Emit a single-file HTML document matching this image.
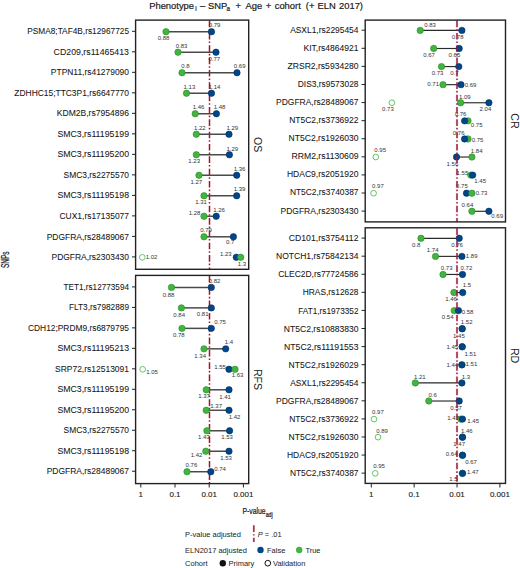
<!DOCTYPE html><html><head><meta charset="utf-8"><style>html,body{margin:0;padding:0;background:#fff;width:520px;height:568px;overflow:hidden}svg{display:block}text{font-family:"Liberation Sans",sans-serif}</style></head><body>
<svg width="520" height="568" viewBox="0 0 520 568">
<text y="9.1" font-size="9.4" fill="#1a1a1a" stroke="#1a1a1a" stroke-width="0.2"><tspan x="149.2">Phenotype</tspan><tspan x="195.3" y="11.1" font-size="6.3">i</tspan><tspan x="200.1" y="9.1">–</tspan><tspan x="207.9">SNP</tspan><tspan x="226.4" y="11.1" font-size="6.3">a</tspan><tspan x="235.6" y="9.1">+</tspan><tspan x="245.5">Age</tspan><tspan x="265.7">+</tspan><tspan x="274.7">cohort</tspan><tspan x="305.8">(+</tspan><tspan x="317.5">ELN</tspan><tspan x="339.0">2017)</tspan></text>
<text x="129" y="34.40" font-size="8.9" fill="#151515" stroke="#151515" stroke-width="0.06" text-anchor="end" textLength="101.76" lengthAdjust="spacingAndGlyphs">PSMA8;TAF4B,rs12967725</text>
<line x1="132.00" x2="135.6" y1="31.30" y2="31.30" stroke="#222" stroke-width="1"/>
<text x="129" y="54.91" font-size="8.9" fill="#151515" stroke="#151515" stroke-width="0.06" text-anchor="end" textLength="75.38" lengthAdjust="spacingAndGlyphs">CD209,rs11465413</text>
<line x1="132.00" x2="135.6" y1="51.81" y2="51.81" stroke="#222" stroke-width="1"/>
<text x="129" y="75.42" font-size="8.9" fill="#151515" stroke="#151515" stroke-width="0.06" text-anchor="end" textLength="78.14" lengthAdjust="spacingAndGlyphs">PTPN11,rs41279090</text>
<line x1="132.00" x2="135.6" y1="72.32" y2="72.32" stroke="#222" stroke-width="1"/>
<text x="129" y="95.93" font-size="8.9" fill="#151515" stroke="#151515" stroke-width="0.06" text-anchor="end" textLength="114.67" lengthAdjust="spacingAndGlyphs">ZDHHC15;TTC3P1,rs6647770</text>
<line x1="132.00" x2="135.6" y1="92.83" y2="92.83" stroke="#222" stroke-width="1"/>
<text x="129" y="116.44" font-size="8.9" fill="#151515" stroke="#151515" stroke-width="0.06" text-anchor="end" textLength="72.19" lengthAdjust="spacingAndGlyphs">KDM2B,rs7954896</text>
<line x1="132.00" x2="135.6" y1="113.34" y2="113.34" stroke="#222" stroke-width="1"/>
<text x="129" y="136.95" font-size="8.9" fill="#151515" stroke="#151515" stroke-width="0.06" text-anchor="end" textLength="71.59" lengthAdjust="spacingAndGlyphs">SMC3,rs11195199</text>
<line x1="132.00" x2="135.6" y1="133.85" y2="133.85" stroke="#222" stroke-width="1"/>
<text x="129" y="157.46" font-size="8.9" fill="#151515" stroke="#151515" stroke-width="0.06" text-anchor="end" textLength="71.59" lengthAdjust="spacingAndGlyphs">SMC3,rs11195200</text>
<line x1="132.00" x2="135.6" y1="154.36" y2="154.36" stroke="#222" stroke-width="1"/>
<text x="129" y="177.97" font-size="8.9" fill="#151515" stroke="#151515" stroke-width="0.06" text-anchor="end" textLength="65.41" lengthAdjust="spacingAndGlyphs">SMC3,rs2275570</text>
<line x1="132.00" x2="135.6" y1="174.87" y2="174.87" stroke="#222" stroke-width="1"/>
<text x="129" y="198.48" font-size="8.9" fill="#151515" stroke="#151515" stroke-width="0.06" text-anchor="end" textLength="71.59" lengthAdjust="spacingAndGlyphs">SMC3,rs11195198</text>
<line x1="132.00" x2="135.6" y1="195.38" y2="195.38" stroke="#222" stroke-width="1"/>
<text x="129" y="218.99" font-size="8.9" fill="#151515" stroke="#151515" stroke-width="0.06" text-anchor="end" textLength="69.47" lengthAdjust="spacingAndGlyphs">CUX1,rs17135077</text>
<line x1="132.00" x2="135.6" y1="215.89" y2="215.89" stroke="#222" stroke-width="1"/>
<text x="129" y="239.50" font-size="8.9" fill="#151515" stroke="#151515" stroke-width="0.06" text-anchor="end" textLength="82.37" lengthAdjust="spacingAndGlyphs">PDGFRA,rs28489067</text>
<line x1="132.00" x2="135.6" y1="236.40" y2="236.40" stroke="#222" stroke-width="1"/>
<text x="129" y="260.01" font-size="8.9" fill="#151515" stroke="#151515" stroke-width="0.06" text-anchor="end" textLength="77.50" lengthAdjust="spacingAndGlyphs">PDGFRA,rs2303430</text>
<line x1="132.00" x2="135.6" y1="256.91" y2="256.91" stroke="#222" stroke-width="1"/>
<line x1="209.5" x2="209.5" y1="20.1" y2="269.3" stroke="#a8102e" stroke-width="1.5" stroke-dasharray="6.6,1.95,1.6,2.19" stroke-dashoffset="-0.5" opacity="1"/>
<line x1="166" x2="211.5" y1="31.70" y2="31.70" stroke="#4a4a4a" stroke-width="1.5"/>
<circle cx="166" cy="31.70" r="3.2" fill="#42B540" stroke="#2a8a2a" stroke-width="0.6"/>
<circle cx="211.5" cy="31.70" r="3.2" fill="#00468B" stroke="#00305e" stroke-width="0.6"/>
<text x="214.5" y="26.95" font-size="6" fill="#333333" text-anchor="middle">0.79</text>
<text x="163.5" y="40.15" font-size="6" fill="#333333" text-anchor="middle">0.88</text>
<line x1="178" x2="216" y1="52.21" y2="52.21" stroke="#4a4a4a" stroke-width="1.5"/>
<circle cx="178" cy="52.21" r="3.2" fill="#42B540" stroke="#2a8a2a" stroke-width="0.6"/>
<circle cx="216" cy="52.21" r="3.2" fill="#00468B" stroke="#00305e" stroke-width="0.6"/>
<text x="181.5" y="48.15" font-size="6" fill="#333333" text-anchor="middle">0.83</text>
<text x="214.3" y="60.65" font-size="6" fill="#333333" text-anchor="middle">0.77</text>
<line x1="182" x2="237" y1="72.72" y2="72.72" stroke="#4a4a4a" stroke-width="1.5"/>
<circle cx="182" cy="72.72" r="3.2" fill="#42B540" stroke="#2a8a2a" stroke-width="0.6"/>
<circle cx="237" cy="72.72" r="3.2" fill="#00468B" stroke="#00305e" stroke-width="0.6"/>
<text x="185.5" y="68.45" font-size="6" fill="#333333" text-anchor="middle">0.8</text>
<text x="239.7" y="68.25" font-size="6" fill="#333333" text-anchor="middle">0.69</text>
<line x1="186.5" x2="211.5" y1="93.23" y2="93.23" stroke="#4a4a4a" stroke-width="1.5"/>
<circle cx="186.5" cy="93.23" r="3.2" fill="#42B540" stroke="#2a8a2a" stroke-width="0.6"/>
<circle cx="211.5" cy="93.23" r="3.2" fill="#00468B" stroke="#00305e" stroke-width="0.6"/>
<text x="189.4" y="89.05" font-size="6" fill="#333333" text-anchor="middle">1.13</text>
<text x="214.5" y="89.05" font-size="6" fill="#333333" text-anchor="middle">1.14</text>
<line x1="195.2" x2="216.4" y1="113.74" y2="113.74" stroke="#4a4a4a" stroke-width="1.5"/>
<circle cx="195.2" cy="113.74" r="3.2" fill="#42B540" stroke="#2a8a2a" stroke-width="0.6"/>
<circle cx="216.4" cy="113.74" r="3.2" fill="#00468B" stroke="#00305e" stroke-width="0.6"/>
<text x="198.5" y="109.25" font-size="6" fill="#333333" text-anchor="middle">1.46</text>
<text x="219.5" y="109.25" font-size="6" fill="#333333" text-anchor="middle">1.48</text>
<line x1="196.3" x2="229" y1="134.25" y2="134.25" stroke="#4a4a4a" stroke-width="1.5"/>
<circle cx="196.3" cy="134.25" r="3.2" fill="#42B540" stroke="#2a8a2a" stroke-width="0.6"/>
<circle cx="229" cy="134.25" r="3.2" fill="#00468B" stroke="#00305e" stroke-width="0.6"/>
<text x="199.8" y="130.25" font-size="6" fill="#333333" text-anchor="middle">1.22</text>
<text x="232.3" y="130.25" font-size="6" fill="#333333" text-anchor="middle">1.29</text>
<line x1="196.3" x2="229.4" y1="154.76" y2="154.76" stroke="#4a4a4a" stroke-width="1.5"/>
<circle cx="196.3" cy="154.76" r="3.2" fill="#42B540" stroke="#2a8a2a" stroke-width="0.6"/>
<circle cx="229.4" cy="154.76" r="3.2" fill="#00468B" stroke="#00305e" stroke-width="0.6"/>
<text x="232.3" y="150.55" font-size="6" fill="#333333" text-anchor="middle">1.29</text>
<text x="194.2" y="163.35" font-size="6" fill="#333333" text-anchor="middle">1.23</text>
<line x1="199" x2="236.7" y1="175.27" y2="175.27" stroke="#4a4a4a" stroke-width="1.5"/>
<circle cx="199" cy="175.27" r="3.2" fill="#42B540" stroke="#2a8a2a" stroke-width="0.6"/>
<circle cx="236.7" cy="175.27" r="3.2" fill="#00468B" stroke="#00305e" stroke-width="0.6"/>
<text x="239.5" y="171.05" font-size="6" fill="#333333" text-anchor="middle">1.36</text>
<text x="196.3" y="183.65" font-size="6" fill="#333333" text-anchor="middle">1.27</text>
<line x1="204" x2="236.7" y1="195.78" y2="195.78" stroke="#4a4a4a" stroke-width="1.5"/>
<circle cx="204" cy="195.78" r="3.2" fill="#42B540" stroke="#2a8a2a" stroke-width="0.6"/>
<circle cx="236.7" cy="195.78" r="3.2" fill="#00468B" stroke="#00305e" stroke-width="0.6"/>
<text x="239.5" y="191.35" font-size="6" fill="#333333" text-anchor="middle">1.39</text>
<text x="201.1" y="203.55" font-size="6" fill="#333333" text-anchor="middle">1.31</text>
<line x1="204" x2="216.2" y1="216.29" y2="216.29" stroke="#4a4a4a" stroke-width="1.5"/>
<circle cx="204" cy="216.29" r="3.2" fill="#42B540" stroke="#2a8a2a" stroke-width="0.6"/>
<circle cx="216.2" cy="216.29" r="3.2" fill="#00468B" stroke="#00305e" stroke-width="0.6"/>
<text x="194.5" y="214.55" font-size="6" fill="#333333" text-anchor="middle">1.28</text>
<text x="219" y="212.35" font-size="6" fill="#333333" text-anchor="middle">1.26</text>
<line x1="204" x2="233.4" y1="236.80" y2="236.80" stroke="#4a4a4a" stroke-width="1.5"/>
<circle cx="204" cy="236.80" r="3.2" fill="#42B540" stroke="#2a8a2a" stroke-width="0.6"/>
<circle cx="233.4" cy="236.80" r="3.2" fill="#00468B" stroke="#00305e" stroke-width="0.6"/>
<text x="206" y="232.05" font-size="6" fill="#333333" text-anchor="middle">0.79</text>
<text x="230.2" y="244.25" font-size="6" fill="#333333" text-anchor="middle">0.7</text>
<line x1="240.7" x2="236.3" y1="257.31" y2="257.31" stroke="#4a4a4a" stroke-width="1.5"/>
<circle cx="142.3" cy="257.31" r="2.85" fill="none" stroke="#42B540" stroke-width="0.95" opacity="0.85"/>
<circle cx="236.3" cy="257.31" r="3.2" fill="#00468B" stroke="#00305e" stroke-width="0.6"/>
<circle cx="240.7" cy="257.31" r="3.2" fill="#42B540" stroke="#2a8a2a" stroke-width="0.6"/>
<text x="151.5" y="258.55" font-size="6" fill="#333333" text-anchor="middle">1.02</text>
<text x="225.8" y="256.35" font-size="6" fill="#333333" text-anchor="middle">1.23</text>
<text x="242" y="266.05" font-size="6" fill="#333333" text-anchor="middle">1.3</text>
<rect x="135.6" y="20.1" width="113.10" height="249.20" fill="none" stroke="#222" stroke-width="1.4"/>
<text x="258.3" y="144.70000000000002" font-size="10.6" fill="#1a1a1a" text-anchor="middle" dominant-baseline="central" transform="rotate(90 258.3 144.70000000000002)">OS</text>
<text x="129" y="290.00" font-size="8.9" fill="#151515" stroke="#151515" stroke-width="0.06" text-anchor="end" textLength="65.43" lengthAdjust="spacingAndGlyphs">TET1,rs12773594</text>
<line x1="132.00" x2="135.6" y1="286.90" y2="286.90" stroke="#222" stroke-width="1"/>
<text x="129" y="310.48" font-size="8.9" fill="#151515" stroke="#151515" stroke-width="0.06" text-anchor="end" textLength="60.02" lengthAdjust="spacingAndGlyphs">FLT3,rs7982889</text>
<line x1="132.00" x2="135.6" y1="307.38" y2="307.38" stroke="#222" stroke-width="1"/>
<text x="129" y="330.96" font-size="8.9" fill="#151515" stroke="#151515" stroke-width="0.06" text-anchor="end" textLength="101.00" lengthAdjust="spacingAndGlyphs">CDH12;PRDM9,rs6879795</text>
<line x1="132.00" x2="135.6" y1="327.86" y2="327.86" stroke="#222" stroke-width="1"/>
<text x="129" y="351.44" font-size="8.9" fill="#151515" stroke="#151515" stroke-width="0.06" text-anchor="end" textLength="71.59" lengthAdjust="spacingAndGlyphs">SMC3,rs11195213</text>
<line x1="132.00" x2="135.6" y1="348.34" y2="348.34" stroke="#222" stroke-width="1"/>
<text x="129" y="371.92" font-size="8.9" fill="#151515" stroke="#151515" stroke-width="0.06" text-anchor="end" textLength="73.98" lengthAdjust="spacingAndGlyphs">SRP72,rs12513091</text>
<line x1="132.00" x2="135.6" y1="368.82" y2="368.82" stroke="#222" stroke-width="1"/>
<text x="129" y="392.40" font-size="8.9" fill="#151515" stroke="#151515" stroke-width="0.06" text-anchor="end" textLength="71.59" lengthAdjust="spacingAndGlyphs">SMC3,rs11195199</text>
<line x1="132.00" x2="135.6" y1="389.30" y2="389.30" stroke="#222" stroke-width="1"/>
<text x="129" y="412.88" font-size="8.9" fill="#151515" stroke="#151515" stroke-width="0.06" text-anchor="end" textLength="71.59" lengthAdjust="spacingAndGlyphs">SMC3,rs11195200</text>
<line x1="132.00" x2="135.6" y1="409.78" y2="409.78" stroke="#222" stroke-width="1"/>
<text x="129" y="433.36" font-size="8.9" fill="#151515" stroke="#151515" stroke-width="0.06" text-anchor="end" textLength="65.41" lengthAdjust="spacingAndGlyphs">SMC3,rs2275570</text>
<line x1="132.00" x2="135.6" y1="430.26" y2="430.26" stroke="#222" stroke-width="1"/>
<text x="129" y="453.84" font-size="8.9" fill="#151515" stroke="#151515" stroke-width="0.06" text-anchor="end" textLength="71.59" lengthAdjust="spacingAndGlyphs">SMC3,rs11195198</text>
<line x1="132.00" x2="135.6" y1="450.74" y2="450.74" stroke="#222" stroke-width="1"/>
<text x="129" y="474.32" font-size="8.9" fill="#151515" stroke="#151515" stroke-width="0.06" text-anchor="end" textLength="82.37" lengthAdjust="spacingAndGlyphs">PDGFRA,rs28489067</text>
<line x1="132.00" x2="135.6" y1="471.22" y2="471.22" stroke="#222" stroke-width="1"/>
<line x1="209.5" x2="209.5" y1="275.4" y2="483.6" stroke="#a8102e" stroke-width="1.5" stroke-dasharray="6.6,1.95,1.6,2.19" stroke-dashoffset="-0.5" opacity="1"/>
<line x1="171.5" x2="211.3" y1="287.40" y2="287.40" stroke="#4a4a4a" stroke-width="1.5"/>
<circle cx="171.5" cy="287.40" r="3.2" fill="#42B540" stroke="#2a8a2a" stroke-width="0.6"/>
<circle cx="211.3" cy="287.40" r="3.2" fill="#00468B" stroke="#00305e" stroke-width="0.6"/>
<text x="214.5" y="282.55" font-size="6" fill="#333333" text-anchor="middle">0.82</text>
<text x="168.5" y="296.55" font-size="6" fill="#333333" text-anchor="middle">0.88</text>
<line x1="181.4" x2="211.3" y1="307.88" y2="307.88" stroke="#4a4a4a" stroke-width="1.5"/>
<circle cx="181.4" cy="307.88" r="3.2" fill="#42B540" stroke="#2a8a2a" stroke-width="0.6"/>
<circle cx="211.3" cy="307.88" r="3.2" fill="#00468B" stroke="#00305e" stroke-width="0.6"/>
<text x="179.2" y="316.85" font-size="6" fill="#333333" text-anchor="middle">0.84</text>
<text x="202.7" y="316.45" font-size="6" fill="#333333" text-anchor="middle">0.81</text>
<line x1="182" x2="211.3" y1="328.36" y2="328.36" stroke="#4a4a4a" stroke-width="1.5"/>
<circle cx="182" cy="328.36" r="3.2" fill="#42B540" stroke="#2a8a2a" stroke-width="0.6"/>
<circle cx="211.3" cy="328.36" r="3.2" fill="#00468B" stroke="#00305e" stroke-width="0.6"/>
<text x="220.1" y="324.05" font-size="6" fill="#333333" text-anchor="middle">0.75</text>
<text x="178.8" y="336.75" font-size="6" fill="#333333" text-anchor="middle">0.78</text>
<line x1="204" x2="225.7" y1="348.84" y2="348.84" stroke="#4a4a4a" stroke-width="1.5"/>
<circle cx="204" cy="348.84" r="3.2" fill="#42B540" stroke="#2a8a2a" stroke-width="0.6"/>
<circle cx="225.7" cy="348.84" r="3.2" fill="#00468B" stroke="#00305e" stroke-width="0.6"/>
<text x="229" y="344.45" font-size="6" fill="#333333" text-anchor="middle">1.4</text>
<text x="200.2" y="358.05" font-size="6" fill="#333333" text-anchor="middle">1.34</text>
<line x1="235" x2="229" y1="369.32" y2="369.32" stroke="#4a4a4a" stroke-width="1.5"/>
<circle cx="142.7" cy="369.32" r="2.85" fill="none" stroke="#42B540" stroke-width="0.95" opacity="0.85"/>
<circle cx="229" cy="369.32" r="3.2" fill="#00468B" stroke="#00305e" stroke-width="0.6"/>
<circle cx="235" cy="369.32" r="3.2" fill="#42B540" stroke="#2a8a2a" stroke-width="0.6"/>
<text x="152" y="374.05" font-size="6" fill="#333333" text-anchor="middle">1.05</text>
<text x="220" y="368.55" font-size="6" fill="#333333" text-anchor="middle">1.55</text>
<text x="237.5" y="377.45" font-size="6" fill="#333333" text-anchor="middle">1.63</text>
<line x1="206.2" x2="229" y1="389.80" y2="389.80" stroke="#4a4a4a" stroke-width="1.5"/>
<circle cx="206.2" cy="389.80" r="3.2" fill="#42B540" stroke="#2a8a2a" stroke-width="0.6"/>
<circle cx="229" cy="389.80" r="3.2" fill="#00468B" stroke="#00305e" stroke-width="0.6"/>
<text x="204.1" y="398.45" font-size="6" fill="#333333" text-anchor="middle">1.37</text>
<text x="225" y="399.05" font-size="6" fill="#333333" text-anchor="middle">1.41</text>
<line x1="206.2" x2="229" y1="410.28" y2="410.28" stroke="#4a4a4a" stroke-width="1.5"/>
<circle cx="206.2" cy="410.28" r="3.2" fill="#42B540" stroke="#2a8a2a" stroke-width="0.6"/>
<circle cx="229" cy="410.28" r="3.2" fill="#00468B" stroke="#00305e" stroke-width="0.6"/>
<text x="216.2" y="408.35" font-size="6" fill="#333333" text-anchor="middle">1.37</text>
<text x="234.5" y="419.45" font-size="6" fill="#333333" text-anchor="middle">1.42</text>
<line x1="206.9" x2="229.6" y1="430.76" y2="430.76" stroke="#4a4a4a" stroke-width="1.5"/>
<circle cx="206.9" cy="430.76" r="3.2" fill="#42B540" stroke="#2a8a2a" stroke-width="0.6"/>
<circle cx="229.6" cy="430.76" r="3.2" fill="#00468B" stroke="#00305e" stroke-width="0.6"/>
<text x="203.8" y="439.05" font-size="6" fill="#333333" text-anchor="middle">1.43</text>
<text x="227.1" y="439.05" font-size="6" fill="#333333" text-anchor="middle">1.53</text>
<line x1="205.8" x2="229" y1="451.24" y2="451.24" stroke="#4a4a4a" stroke-width="1.5"/>
<circle cx="205.8" cy="451.24" r="3.2" fill="#42B540" stroke="#2a8a2a" stroke-width="0.6"/>
<circle cx="229" cy="451.24" r="3.2" fill="#00468B" stroke="#00305e" stroke-width="0.6"/>
<text x="196.6" y="457.15" font-size="6" fill="#333333" text-anchor="middle">1.42</text>
<text x="226" y="460.05" font-size="6" fill="#333333" text-anchor="middle">1.53</text>
<line x1="187" x2="210.8" y1="471.72" y2="471.72" stroke="#4a4a4a" stroke-width="1.5"/>
<circle cx="187" cy="471.72" r="3.2" fill="#42B540" stroke="#2a8a2a" stroke-width="0.6"/>
<circle cx="210.8" cy="471.72" r="3.2" fill="#00468B" stroke="#00305e" stroke-width="0.6"/>
<text x="191.4" y="467.45" font-size="6" fill="#333333" text-anchor="middle">0.76</text>
<text x="220.1" y="471.05" font-size="6" fill="#333333" text-anchor="middle">0.74</text>
<rect x="135.6" y="275.4" width="113.10" height="208.20" fill="none" stroke="#222" stroke-width="1.4"/>
<text x="258.3" y="379.5" font-size="10.6" fill="#1a1a1a" text-anchor="middle" dominant-baseline="central" transform="rotate(90 258.3 379.5)">RFS</text>
<text x="358.5" y="32.60" font-size="8.9" fill="#151515" stroke="#151515" stroke-width="0.06" text-anchor="end" textLength="68.37" lengthAdjust="spacingAndGlyphs">ASXL1,rs2295454</text>
<line x1="361.60" x2="365.2" y1="30.20" y2="30.20" stroke="#222" stroke-width="1"/>
<text x="358.5" y="50.69" font-size="8.9" fill="#151515" stroke="#151515" stroke-width="0.06" text-anchor="end" textLength="54.99" lengthAdjust="spacingAndGlyphs">KIT,rs4864921</text>
<line x1="361.60" x2="365.2" y1="48.29" y2="48.29" stroke="#222" stroke-width="1"/>
<text x="358.5" y="68.78" font-size="8.9" fill="#151515" stroke="#151515" stroke-width="0.06" text-anchor="end" textLength="71.01" lengthAdjust="spacingAndGlyphs">ZRSR2,rs5934280</text>
<line x1="361.60" x2="365.2" y1="66.38" y2="66.38" stroke="#222" stroke-width="1"/>
<text x="358.5" y="86.87" font-size="8.9" fill="#151515" stroke="#151515" stroke-width="0.06" text-anchor="end" textLength="60.77" lengthAdjust="spacingAndGlyphs">DIS3,rs9573028</text>
<line x1="361.60" x2="365.2" y1="84.47" y2="84.47" stroke="#222" stroke-width="1"/>
<text x="358.5" y="104.96" font-size="8.9" fill="#151515" stroke="#151515" stroke-width="0.06" text-anchor="end" textLength="82.47" lengthAdjust="spacingAndGlyphs">PDGFRA,rs28489067</text>
<line x1="361.60" x2="365.2" y1="102.56" y2="102.56" stroke="#222" stroke-width="1"/>
<text x="358.5" y="123.05" font-size="8.9" fill="#151515" stroke="#151515" stroke-width="0.06" text-anchor="end" textLength="69.31" lengthAdjust="spacingAndGlyphs">NT5C2,rs3736922</text>
<line x1="361.60" x2="365.2" y1="120.65" y2="120.65" stroke="#222" stroke-width="1"/>
<text x="358.5" y="141.14" font-size="8.9" fill="#151515" stroke="#151515" stroke-width="0.06" text-anchor="end" textLength="69.91" lengthAdjust="spacingAndGlyphs">NT5C2,rs1926030</text>
<line x1="361.60" x2="365.2" y1="138.74" y2="138.74" stroke="#222" stroke-width="1"/>
<text x="358.5" y="159.23" font-size="8.9" fill="#151515" stroke="#151515" stroke-width="0.06" text-anchor="end" textLength="67.02" lengthAdjust="spacingAndGlyphs">RRM2,rs1130609</text>
<line x1="361.60" x2="365.2" y1="156.83" y2="156.83" stroke="#222" stroke-width="1"/>
<text x="358.5" y="177.32" font-size="8.9" fill="#151515" stroke="#151515" stroke-width="0.06" text-anchor="end" textLength="71.53" lengthAdjust="spacingAndGlyphs">HDAC9,rs2051920</text>
<line x1="361.60" x2="365.2" y1="174.92" y2="174.92" stroke="#222" stroke-width="1"/>
<text x="358.5" y="195.41" font-size="8.9" fill="#151515" stroke="#151515" stroke-width="0.06" text-anchor="end" textLength="68.61" lengthAdjust="spacingAndGlyphs">NT5C2,rs3740387</text>
<line x1="361.60" x2="365.2" y1="193.01" y2="193.01" stroke="#222" stroke-width="1"/>
<text x="358.5" y="213.50" font-size="8.9" fill="#151515" stroke="#151515" stroke-width="0.06" text-anchor="end" textLength="78.00" lengthAdjust="spacingAndGlyphs">PDGFRA,rs2303430</text>
<line x1="361.60" x2="365.2" y1="211.10" y2="211.10" stroke="#222" stroke-width="1"/>
<line x1="420.2" x2="461.9" y1="30.40" y2="30.40" stroke="#2a2a2a" stroke-width="1.15"/>
<circle cx="420.2" cy="30.40" r="3.2" fill="#42B540" stroke="#2a8a2a" stroke-width="0.6"/>
<circle cx="461.9" cy="30.40" r="3.2" fill="#00468B" stroke="#00305e" stroke-width="0.6"/>
<text x="430" y="26.85" font-size="6" fill="#333333" text-anchor="middle">0.83</text>
<text x="457.7" y="38.75" font-size="6" fill="#333333" text-anchor="middle">0.78</text>
<line x1="433.7" x2="459.2" y1="48.49" y2="48.49" stroke="#2a2a2a" stroke-width="1.15"/>
<circle cx="433.7" cy="48.49" r="3.2" fill="#42B540" stroke="#2a8a2a" stroke-width="0.6"/>
<circle cx="459.2" cy="48.49" r="3.2" fill="#00468B" stroke="#00305e" stroke-width="0.6"/>
<text x="429.1" y="56.55" font-size="6" fill="#333333" text-anchor="middle">0.67</text>
<text x="454.4" y="56.55" font-size="6" fill="#333333" text-anchor="middle">0.65</text>
<line x1="441.5" x2="458.8" y1="66.58" y2="66.58" stroke="#2a2a2a" stroke-width="1.15"/>
<circle cx="441.5" cy="66.58" r="3.2" fill="#42B540" stroke="#2a8a2a" stroke-width="0.6"/>
<circle cx="458.8" cy="66.58" r="3.2" fill="#00468B" stroke="#00305e" stroke-width="0.6"/>
<text x="437.5" y="74.85" font-size="6" fill="#333333" text-anchor="middle">0.73</text>
<text x="454.3" y="74.85" font-size="6" fill="#333333" text-anchor="middle">0.7</text>
<line x1="443" x2="461" y1="84.67" y2="84.67" stroke="#2a2a2a" stroke-width="1.15"/>
<circle cx="443" cy="84.67" r="3.2" fill="#42B540" stroke="#2a8a2a" stroke-width="0.6"/>
<circle cx="461" cy="84.67" r="3.2" fill="#00468B" stroke="#00305e" stroke-width="0.6"/>
<text x="433.2" y="85.85" font-size="6" fill="#333333" text-anchor="middle">0.71</text>
<text x="470.5" y="87.45" font-size="6" fill="#333333" text-anchor="middle">0.69</text>
<line x1="460.6" x2="488.9" y1="102.76" y2="102.76" stroke="#2a2a2a" stroke-width="1.15"/>
<circle cx="391.9" cy="102.76" r="2.85" fill="none" stroke="#42B540" stroke-width="0.95" opacity="0.85"/>
<circle cx="460.6" cy="102.76" r="3.2" fill="#42B540" stroke="#2a8a2a" stroke-width="0.6"/>
<circle cx="488.9" cy="102.76" r="3.2" fill="#00468B" stroke="#00305e" stroke-width="0.6"/>
<text x="387.9" y="111.45" font-size="6" fill="#333333" text-anchor="middle">0.73</text>
<text x="464.8" y="98.55" font-size="6" fill="#333333" text-anchor="middle">1.09</text>
<text x="485.4" y="111.45" font-size="6" fill="#333333" text-anchor="middle">2.04</text>
<line x1="468" x2="464.6" y1="120.85" y2="120.85" stroke="#2a2a2a" stroke-width="1.15"/>
<circle cx="468" cy="120.85" r="3.2" fill="#42B540" stroke="#2a8a2a" stroke-width="0.6"/>
<circle cx="464.6" cy="120.85" r="3.2" fill="#00468B" stroke="#00305e" stroke-width="0.6"/>
<text x="460.5" y="116.25" font-size="6" fill="#333333" text-anchor="middle">0.76</text>
<text x="476.7" y="127.05" font-size="6" fill="#333333" text-anchor="middle">0.75</text>
<line x1="468" x2="464.6" y1="138.94" y2="138.94" stroke="#2a2a2a" stroke-width="1.15"/>
<circle cx="468" cy="138.94" r="3.2" fill="#42B540" stroke="#2a8a2a" stroke-width="0.6"/>
<circle cx="464.6" cy="138.94" r="3.2" fill="#00468B" stroke="#00305e" stroke-width="0.6"/>
<text x="458.7" y="134.55" font-size="6" fill="#333333" text-anchor="middle">0.76</text>
<text x="477.5" y="141.85" font-size="6" fill="#333333" text-anchor="middle">0.75</text>
<line x1="471.9" x2="456.5" y1="157.03" y2="157.03" stroke="#2a2a2a" stroke-width="1.15"/>
<circle cx="375.8" cy="157.03" r="2.85" fill="none" stroke="#42B540" stroke-width="0.95" opacity="0.85"/>
<circle cx="471.9" cy="157.03" r="3.2" fill="#42B540" stroke="#2a8a2a" stroke-width="0.6"/>
<circle cx="456.5" cy="157.03" r="3.2" fill="#00468B" stroke="#00305e" stroke-width="0.6"/>
<text x="380.2" y="152.45" font-size="6" fill="#333333" text-anchor="middle">0.95</text>
<text x="476.7" y="153.05" font-size="6" fill="#333333" text-anchor="middle">1.84</text>
<text x="452.4" y="165.85" font-size="6" fill="#333333" text-anchor="middle">1.56</text>
<line x1="470.8" x2="472.7" y1="175.12" y2="175.12" stroke="#2a2a2a" stroke-width="1.15"/>
<circle cx="470.8" cy="175.12" r="3.2" fill="#42B540" stroke="#2a8a2a" stroke-width="0.6"/>
<circle cx="472.7" cy="175.12" r="3.2" fill="#00468B" stroke="#00305e" stroke-width="0.6"/>
<text x="462.4" y="175.35" font-size="6" fill="#333333" text-anchor="middle">1.55</text>
<text x="480.2" y="183.35" font-size="6" fill="#333333" text-anchor="middle">1.45</text>
<line x1="471.9" x2="466.5" y1="193.21" y2="193.21" stroke="#2a2a2a" stroke-width="1.15"/>
<circle cx="373.6" cy="193.21" r="2.85" fill="none" stroke="#42B540" stroke-width="0.95" opacity="0.85"/>
<circle cx="466.5" cy="193.21" r="3.2" fill="#00468B" stroke="#00305e" stroke-width="0.6"/>
<circle cx="471.9" cy="193.21" r="3.2" fill="#42B540" stroke="#2a8a2a" stroke-width="0.6"/>
<text x="377.9" y="188.25" font-size="6" fill="#333333" text-anchor="middle">0.97</text>
<text x="461.9" y="188.25" font-size="6" fill="#333333" text-anchor="middle">0.75</text>
<text x="481.5" y="194.75" font-size="6" fill="#333333" text-anchor="middle">0.73</text>
<line x1="471.9" x2="488.9" y1="211.30" y2="211.30" stroke="#2a2a2a" stroke-width="1.15"/>
<circle cx="471.9" cy="211.30" r="3.2" fill="#42B540" stroke="#2a8a2a" stroke-width="0.6"/>
<circle cx="488.9" cy="211.30" r="3.2" fill="#00468B" stroke="#00305e" stroke-width="0.6"/>
<text x="467.4" y="207.05" font-size="6" fill="#333333" text-anchor="middle">0.64</text>
<text x="497.2" y="218.45" font-size="6" fill="#333333" text-anchor="middle">0.69</text>
<line x1="457.0" x2="457.0" y1="20.1" y2="221.9" stroke="#961636" stroke-width="2.1" stroke-dasharray="6.6,1.95,1.6,2.19" stroke-dashoffset="-0.5" opacity="0.75"/>
<rect x="365.2" y="20.1" width="140.30" height="201.80" fill="none" stroke="#222" stroke-width="1.4"/>
<text x="515.3" y="121.0" font-size="10.6" fill="#1a1a1a" text-anchor="middle" dominant-baseline="central" transform="rotate(90 515.3 121.0)">CR</text>
<text x="358.5" y="241.20" font-size="8.9" fill="#151515" stroke="#151515" stroke-width="0.06" text-anchor="end" textLength="69.72" lengthAdjust="spacingAndGlyphs">CD101,rs3754112</text>
<line x1="361.60" x2="365.2" y1="238.10" y2="238.10" stroke="#222" stroke-width="1"/>
<text x="358.5" y="259.28" font-size="8.9" fill="#151515" stroke="#151515" stroke-width="0.06" text-anchor="end" textLength="82.51" lengthAdjust="spacingAndGlyphs">NOTCH1,rs75842134</text>
<line x1="361.60" x2="365.2" y1="256.18" y2="256.18" stroke="#222" stroke-width="1"/>
<text x="358.5" y="277.36" font-size="8.9" fill="#151515" stroke="#151515" stroke-width="0.06" text-anchor="end" textLength="80.26" lengthAdjust="spacingAndGlyphs">CLEC2D,rs77724586</text>
<line x1="361.60" x2="365.2" y1="274.26" y2="274.26" stroke="#222" stroke-width="1"/>
<text x="358.5" y="295.44" font-size="8.9" fill="#151515" stroke="#151515" stroke-width="0.06" text-anchor="end" textLength="55.70" lengthAdjust="spacingAndGlyphs">HRAS,rs12628</text>
<line x1="361.60" x2="365.2" y1="292.34" y2="292.34" stroke="#222" stroke-width="1"/>
<text x="358.5" y="313.52" font-size="8.9" fill="#151515" stroke="#151515" stroke-width="0.06" text-anchor="end" textLength="60.19" lengthAdjust="spacingAndGlyphs">FAT1,rs1973352</text>
<line x1="361.60" x2="365.2" y1="310.42" y2="310.42" stroke="#222" stroke-width="1"/>
<text x="358.5" y="331.60" font-size="8.9" fill="#151515" stroke="#151515" stroke-width="0.06" text-anchor="end" textLength="74.67" lengthAdjust="spacingAndGlyphs">NT5C2,rs10883830</text>
<line x1="361.60" x2="365.2" y1="328.50" y2="328.50" stroke="#222" stroke-width="1"/>
<text x="358.5" y="349.68" font-size="8.9" fill="#151515" stroke="#151515" stroke-width="0.06" text-anchor="end" textLength="74.49" lengthAdjust="spacingAndGlyphs">NT5C2,rs11191553</text>
<line x1="361.60" x2="365.2" y1="346.58" y2="346.58" stroke="#222" stroke-width="1"/>
<text x="358.5" y="367.76" font-size="8.9" fill="#151515" stroke="#151515" stroke-width="0.06" text-anchor="end" textLength="69.91" lengthAdjust="spacingAndGlyphs">NT5C2,rs1926029</text>
<line x1="361.60" x2="365.2" y1="364.66" y2="364.66" stroke="#222" stroke-width="1"/>
<text x="358.5" y="385.84" font-size="8.9" fill="#151515" stroke="#151515" stroke-width="0.06" text-anchor="end" textLength="68.37" lengthAdjust="spacingAndGlyphs">ASXL1,rs2295454</text>
<line x1="361.60" x2="365.2" y1="382.74" y2="382.74" stroke="#222" stroke-width="1"/>
<text x="358.5" y="403.92" font-size="8.9" fill="#151515" stroke="#151515" stroke-width="0.06" text-anchor="end" textLength="82.47" lengthAdjust="spacingAndGlyphs">PDGFRA,rs28489067</text>
<line x1="361.60" x2="365.2" y1="400.82" y2="400.82" stroke="#222" stroke-width="1"/>
<text x="358.5" y="422.00" font-size="8.9" fill="#151515" stroke="#151515" stroke-width="0.06" text-anchor="end" textLength="69.31" lengthAdjust="spacingAndGlyphs">NT5C2,rs3736922</text>
<line x1="361.60" x2="365.2" y1="418.90" y2="418.90" stroke="#222" stroke-width="1"/>
<text x="358.5" y="440.08" font-size="8.9" fill="#151515" stroke="#151515" stroke-width="0.06" text-anchor="end" textLength="69.91" lengthAdjust="spacingAndGlyphs">NT5C2,rs1926030</text>
<line x1="361.60" x2="365.2" y1="436.98" y2="436.98" stroke="#222" stroke-width="1"/>
<text x="358.5" y="458.16" font-size="8.9" fill="#151515" stroke="#151515" stroke-width="0.06" text-anchor="end" textLength="71.53" lengthAdjust="spacingAndGlyphs">HDAC9,rs2051920</text>
<line x1="361.60" x2="365.2" y1="455.06" y2="455.06" stroke="#222" stroke-width="1"/>
<text x="358.5" y="476.24" font-size="8.9" fill="#151515" stroke="#151515" stroke-width="0.06" text-anchor="end" textLength="68.61" lengthAdjust="spacingAndGlyphs">NT5C2,rs3740387</text>
<line x1="361.60" x2="365.2" y1="473.14" y2="473.14" stroke="#222" stroke-width="1"/>
<line x1="421" x2="459.2" y1="238.30" y2="238.30" stroke="#2a2a2a" stroke-width="1.15"/>
<circle cx="421" cy="238.30" r="3.2" fill="#42B540" stroke="#2a8a2a" stroke-width="0.6"/>
<circle cx="459.2" cy="238.30" r="3.2" fill="#00468B" stroke="#00305e" stroke-width="0.6"/>
<text x="416.1" y="246.55" font-size="6" fill="#333333" text-anchor="middle">0.8</text>
<text x="457.1" y="246.75" font-size="6" fill="#333333" text-anchor="middle">0.76</text>
<line x1="435.5" x2="461.9" y1="256.38" y2="256.38" stroke="#2a2a2a" stroke-width="1.15"/>
<circle cx="435.5" cy="256.38" r="3.2" fill="#42B540" stroke="#2a8a2a" stroke-width="0.6"/>
<circle cx="461.9" cy="256.38" r="3.2" fill="#00468B" stroke="#00305e" stroke-width="0.6"/>
<text x="432.7" y="251.95" font-size="6" fill="#333333" text-anchor="middle">1.74</text>
<text x="471.7" y="257.75" font-size="6" fill="#333333" text-anchor="middle">1.89</text>
<line x1="443" x2="462.5" y1="274.46" y2="274.46" stroke="#2a2a2a" stroke-width="1.15"/>
<circle cx="443" cy="274.46" r="3.2" fill="#42B540" stroke="#2a8a2a" stroke-width="0.6"/>
<circle cx="462.5" cy="274.46" r="3.2" fill="#00468B" stroke="#00305e" stroke-width="0.6"/>
<text x="446.7" y="270.45" font-size="6" fill="#333333" text-anchor="middle">0.73</text>
<text x="466.4" y="270.45" font-size="6" fill="#333333" text-anchor="middle">0.72</text>
<line x1="453.9" x2="462.7" y1="292.54" y2="292.54" stroke="#2a2a2a" stroke-width="1.15"/>
<circle cx="453.9" cy="292.54" r="3.2" fill="#42B540" stroke="#2a8a2a" stroke-width="0.6"/>
<circle cx="462.7" cy="292.54" r="3.2" fill="#00468B" stroke="#00305e" stroke-width="0.6"/>
<text x="466.9" y="287.35" font-size="6" fill="#333333" text-anchor="middle">1.5</text>
<text x="451.1" y="301.45" font-size="6" fill="#333333" text-anchor="middle">1.46</text>
<line x1="454.2" x2="458.5" y1="310.62" y2="310.62" stroke="#2a2a2a" stroke-width="1.15"/>
<circle cx="454.2" cy="310.62" r="3.2" fill="#42B540" stroke="#2a8a2a" stroke-width="0.6"/>
<circle cx="458.5" cy="310.62" r="3.2" fill="#00468B" stroke="#00305e" stroke-width="0.6"/>
<text x="467.5" y="313.75" font-size="6" fill="#333333" text-anchor="middle">0.58</text>
<text x="447.7" y="319.25" font-size="6" fill="#333333" text-anchor="middle">0.54</text>
<line x1="462.2" x2="462.2" y1="328.70" y2="328.70" stroke="#2a2a2a" stroke-width="1.15"/>
<circle cx="462.2" cy="328.70" r="3.2" fill="#42B540" stroke="#2a8a2a" stroke-width="0.6"/>
<circle cx="462.2" cy="328.70" r="3.2" fill="#00468B" stroke="#00305e" stroke-width="0.6"/>
<text x="466.7" y="324.05" font-size="6" fill="#333333" text-anchor="middle">1.52</text>
<text x="458.9" y="337.55" font-size="6" fill="#333333" text-anchor="middle">1.45</text>
<line x1="462.2" x2="462.2" y1="346.78" y2="346.78" stroke="#2a2a2a" stroke-width="1.15"/>
<circle cx="462.2" cy="346.78" r="3.2" fill="#42B540" stroke="#2a8a2a" stroke-width="0.6"/>
<circle cx="462.2" cy="346.78" r="3.2" fill="#00468B" stroke="#00305e" stroke-width="0.6"/>
<text x="452.3" y="348.55" font-size="6" fill="#333333" text-anchor="middle">1.45</text>
<text x="470.4" y="355.55" font-size="6" fill="#333333" text-anchor="middle">1.51</text>
<line x1="461.9" x2="461.9" y1="364.86" y2="364.86" stroke="#2a2a2a" stroke-width="1.15"/>
<circle cx="461.9" cy="364.86" r="3.2" fill="#42B540" stroke="#2a8a2a" stroke-width="0.6"/>
<circle cx="461.9" cy="364.86" r="3.2" fill="#00468B" stroke="#00305e" stroke-width="0.6"/>
<text x="452.3" y="367.25" font-size="6" fill="#333333" text-anchor="middle">1.44</text>
<text x="471.4" y="365.85" font-size="6" fill="#333333" text-anchor="middle">1.51</text>
<line x1="415.3" x2="461.9" y1="382.94" y2="382.94" stroke="#2a2a2a" stroke-width="1.15"/>
<circle cx="415.3" cy="382.94" r="3.2" fill="#42B540" stroke="#2a8a2a" stroke-width="0.6"/>
<circle cx="461.9" cy="382.94" r="3.2" fill="#00468B" stroke="#00305e" stroke-width="0.6"/>
<text x="419.8" y="378.75" font-size="6" fill="#333333" text-anchor="middle">1.21</text>
<text x="466" y="378.75" font-size="6" fill="#333333" text-anchor="middle">1.3</text>
<line x1="428.8" x2="459.2" y1="401.02" y2="401.02" stroke="#2a2a2a" stroke-width="1.15"/>
<circle cx="428.8" cy="401.02" r="3.2" fill="#42B540" stroke="#2a8a2a" stroke-width="0.6"/>
<circle cx="459.2" cy="401.02" r="3.2" fill="#00468B" stroke="#00305e" stroke-width="0.6"/>
<text x="432.6" y="396.55" font-size="6" fill="#333333" text-anchor="middle">0.6</text>
<text x="456" y="410.05" font-size="6" fill="#333333" text-anchor="middle">0.57</text>
<line x1="460.8" x2="462.5" y1="419.10" y2="419.10" stroke="#2a2a2a" stroke-width="1.15"/>
<circle cx="374" cy="419.10" r="2.85" fill="none" stroke="#42B540" stroke-width="0.95" opacity="0.85"/>
<circle cx="460.8" cy="419.10" r="3.2" fill="#42B540" stroke="#2a8a2a" stroke-width="0.6"/>
<circle cx="462.5" cy="419.10" r="3.2" fill="#00468B" stroke="#00305e" stroke-width="0.6"/>
<text x="377.9" y="413.75" font-size="6" fill="#333333" text-anchor="middle">0.97</text>
<text x="453" y="420.05" font-size="6" fill="#333333" text-anchor="middle">1.47</text>
<text x="473.2" y="422.65" font-size="6" fill="#333333" text-anchor="middle">1.45</text>
<line x1="462.5" x2="462.5" y1="437.18" y2="437.18" stroke="#2a2a2a" stroke-width="1.15"/>
<circle cx="378" cy="437.18" r="2.85" fill="none" stroke="#42B540" stroke-width="0.95" opacity="0.85"/>
<circle cx="462.5" cy="437.18" r="3.2" fill="#42B540" stroke="#2a8a2a" stroke-width="0.6"/>
<circle cx="462.5" cy="437.18" r="3.2" fill="#00468B" stroke="#00305e" stroke-width="0.6"/>
<text x="382.1" y="432.65" font-size="6" fill="#333333" text-anchor="middle">0.89</text>
<text x="466.8" y="432.65" font-size="6" fill="#333333" text-anchor="middle">1.46</text>
<text x="459.2" y="445.55" font-size="6" fill="#333333" text-anchor="middle">1.47</text>
<line x1="462.5" x2="462.5" y1="455.26" y2="455.26" stroke="#2a2a2a" stroke-width="1.15"/>
<circle cx="462.5" cy="455.26" r="3.2" fill="#42B540" stroke="#2a8a2a" stroke-width="0.6"/>
<circle cx="462.5" cy="455.26" r="3.2" fill="#00468B" stroke="#00305e" stroke-width="0.6"/>
<text x="451.7" y="456.25" font-size="6" fill="#333333" text-anchor="middle">0.64</text>
<text x="471" y="463.55" font-size="6" fill="#333333" text-anchor="middle">0.67</text>
<line x1="462.5" x2="462.5" y1="473.34" y2="473.34" stroke="#2a2a2a" stroke-width="1.15"/>
<circle cx="375.2" cy="473.34" r="2.85" fill="none" stroke="#42B540" stroke-width="0.95" opacity="0.85"/>
<circle cx="462.5" cy="473.34" r="3.2" fill="#42B540" stroke="#2a8a2a" stroke-width="0.6"/>
<circle cx="462.5" cy="473.34" r="3.2" fill="#00468B" stroke="#00305e" stroke-width="0.6"/>
<text x="379.1" y="468.45" font-size="6" fill="#333333" text-anchor="middle">0.95</text>
<text x="472.8" y="474.35" font-size="6" fill="#333333" text-anchor="middle">1.47</text>
<text x="453.5" y="480.55" font-size="6" fill="#333333" text-anchor="middle">1.5</text>
<line x1="457.0" x2="457.0" y1="227.8" y2="483.4" stroke="#961636" stroke-width="2.1" stroke-dasharray="6.6,1.95,1.6,2.19" stroke-dashoffset="-0.5" opacity="0.75"/>
<rect x="365.2" y="227.8" width="140.30" height="255.60" fill="none" stroke="#222" stroke-width="1.4"/>
<text x="515.3" y="355.6" font-size="10.6" fill="#1a1a1a" text-anchor="middle" dominant-baseline="central" transform="rotate(90 515.3 355.6)">RD</text>
<line x1="140.80" x2="140.80" y1="484" y2="487.5" stroke="#222" stroke-width="1"/>
<text x="140.80" y="497.1" font-size="8" fill="#151515" stroke="#151515" stroke-width="0.1" text-anchor="middle">1</text>
<line x1="175.00" x2="175.00" y1="484" y2="487.5" stroke="#222" stroke-width="1"/>
<text x="175.00" y="497.1" font-size="8" fill="#151515" stroke="#151515" stroke-width="0.1" text-anchor="middle">0.1</text>
<line x1="209.20" x2="209.20" y1="484" y2="487.5" stroke="#222" stroke-width="1"/>
<text x="209.20" y="497.1" font-size="8" fill="#151515" stroke="#151515" stroke-width="0.1" text-anchor="middle">0.01</text>
<line x1="243.40" x2="243.40" y1="484" y2="487.5" stroke="#222" stroke-width="1"/>
<text x="243.40" y="497.1" font-size="8" fill="#151515" stroke="#151515" stroke-width="0.1" text-anchor="middle">0.001</text>
<line x1="371.30" x2="371.30" y1="484" y2="487.5" stroke="#222" stroke-width="1"/>
<text x="371.30" y="497.1" font-size="8" fill="#151515" stroke="#151515" stroke-width="0.1" text-anchor="middle">1</text>
<line x1="414.17" x2="414.17" y1="484" y2="487.5" stroke="#222" stroke-width="1"/>
<text x="414.17" y="497.1" font-size="8" fill="#151515" stroke="#151515" stroke-width="0.1" text-anchor="middle">0.1</text>
<line x1="457.04" x2="457.04" y1="484" y2="487.5" stroke="#222" stroke-width="1"/>
<text x="457.04" y="497.1" font-size="8" fill="#151515" stroke="#151515" stroke-width="0.1" text-anchor="middle">0.01</text>
<line x1="499.91" x2="499.91" y1="484" y2="487.5" stroke="#222" stroke-width="1"/>
<text x="499.91" y="497.1" font-size="8" fill="#151515" stroke="#151515" stroke-width="0.1" text-anchor="middle">0.001</text>
<g transform="translate(242.4 514.4) scale(0.715 1)"><text x="0" y="0" font-size="9.6" fill="#1a1a1a" stroke="#1a1a1a" stroke-width="0.25">P-value<tspan font-size="7.3" dy="2.4">adj</tspan></text></g>
<g transform="translate(8.8 268.1) rotate(-90) scale(0.65 1)"><text x="0" y="0" font-size="10" fill="#1a1a1a" stroke="#1a1a1a" stroke-width="0.25">SNPs</text></g>
<text x="185.1" y="537.1" font-size="7.5" fill="#222">P-value adjusted</text>
<line x1="253.8" x2="253.8" y1="525.3" y2="542" stroke="#961636" stroke-width="1.8" opacity="0.85" stroke-dasharray="6.8,2.1,1.4,2.14"/>
<text x="257.7" y="537.1" font-size="7.5" fill="#222"><tspan font-style="italic">P</tspan> = .01</text>
<text x="185.1" y="552.9" font-size="7.5" fill="#222">ELN2017 adjusted</text>
<circle cx="260.5" cy="550" r="3.2" fill="#00468B"/>
<text x="267" y="552.9" font-size="7.5" fill="#222">False</text>
<circle cx="299.2" cy="550" r="3.2" fill="#42B540"/>
<text x="305.4" y="552.9" font-size="7.5" fill="#222">True</text>
<text x="185.1" y="565.8" font-size="7.5" fill="#222">Cohort</text>
<circle cx="222.8" cy="563.3" r="3.2" fill="#111"/>
<text x="228.5" y="565.8" font-size="7.5" fill="#222">Primary</text>
<circle cx="267.8" cy="563.2" r="2.85" fill="none" stroke="#111" stroke-width="1"/>
<text x="273" y="565.8" font-size="7.5" fill="#222">Validation</text>
</svg></body></html>
